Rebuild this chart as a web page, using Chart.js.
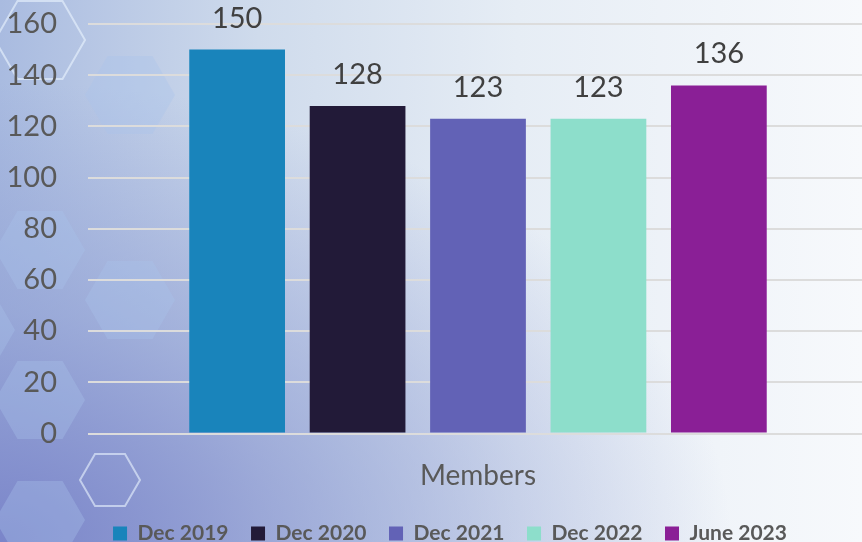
<!DOCTYPE html>
<html>
<head>
<meta charset="utf-8">
<script src="https://cdn.jsdelivr.net/npm/chart.js@4"></script>
<style>
    html, body {
        margin: 0;
        padding: 0;
        overflow: hidden;
        width: 862px;
        height: 542px;
    }
    body {
        background:
            radial-gradient(ellipse at 0% 100%, rgba(120, 130, 200, 0.95) 0%, rgba(140, 155, 210, 0.6) 30%, rgba(200, 215, 235, 0) 60%),
            linear-gradient(to right, #a9bbe0 0%, #cfdbec 30%, #e6edf5 60%, #f7f9fc 100%);
    }
    #wrap {
        position: relative;
        width: 868px;
        height: 554px;
    }
</style>
</head>
<body>
<div id="wrap"><canvas id="chart"></canvas></div>
<script>
const categories = ['Members'];
const seriesNames = ['Dec 2019', 'Dec 2020', 'Dec 2021', 'Dec 2022', 'June 2023'];
const seriesValues = [150, 128, 123, 123, 136];
const seriesColors = ['#1984bb', '#221a38', '#6262b6', '#8ddecb', '#8a1f96'];
const yTicks = [0, 20, 40, 60, 80, 100, 120, 140, 160];

const FONT = 'Lato, "Open Sans", sans-serif';

// faint hexagons on the left side, like the slide background
const hexBackground = {
    id: 'hexBackground',
    beforeDraw(chart) {
        const ctx = chart.ctx;
        const hexes = [
            [40, 40, 45, 'stroke'], [130, 95, 45, 'fill'], [40, 250, 45, 'fill'],
            [40, 400, 45, 'fill'], [40, 520, 45, 'fill'], [-30, 330, 45, 'fill'],
            [130, 300, 45, 'fill'], [110, 480, 30, 'stroke']
        ];
        ctx.save();
        hexes.forEach(([cx, cy, r, mode]) => {
            ctx.beginPath();
            for (let i = 0; i < 6; i++) {
                const a = Math.PI / 3 * i;
                const px = cx + r * Math.cos(a);
                const py = cy + r * Math.sin(a);
                if (i === 0) ctx.moveTo(px, py); else ctx.lineTo(px, py);
            }
            ctx.closePath();
            if (mode === 'fill') {
                ctx.fillStyle = 'rgba(170, 195, 235, 0.35)';
                ctx.fill();
            } else {
                ctx.strokeStyle = 'rgba(235, 245, 255, 0.6)';
                ctx.lineWidth = 2;
                ctx.stroke();
            }
        });
        ctx.restore();
    }
};

// value labels above each bar
const valueLabels = {
    id: 'valueLabels',
    afterDatasetsDraw(chart) {
        const ctx = chart.ctx;
        ctx.save();
        ctx.font = '29px ' + FONT;
        ctx.fillStyle = '#404040';
        ctx.textAlign = 'center';
        ctx.textBaseline = 'alphabetic';
        chart.data.datasets.forEach((ds, i) => {
            const meta = chart.getDatasetMeta(i);
            meta.data.forEach((bar, j) => {
                ctx.fillText(ds.data[j], bar.x, bar.y - 22);
            });
        });
        ctx.restore();
    }
};

// nudge the legend a little to the right, as in the original slide
const legendShift = {
    id: 'legendShift',
    afterLayout(chart) {
        chart.legend.left += 16;
        chart.legend.right += 16;
    }
};

const datasets = seriesNames.map((name, i) => ({
    label: name,
    data: [seriesValues[i]],
    backgroundColor: seriesColors[i],
    borderWidth: 0,
    barPercentage: 0.795,
    categoryPercentage: 0.772
}));

new Chart(document.getElementById('chart'), {
    type: 'bar',
    data: { labels: categories, datasets: datasets },
    plugins: [hexBackground, valueLabels, legendShift],
    options: {
        responsive: true,
        maintainAspectRatio: false,
        animation: false,
        layout: { padding: { top: 24, right: 0, bottom: 0, left: 0 } },
        plugins: {
            legend: {
                position: 'bottom',
                labels: {
                    boxWidth: 14,
                    boxHeight: 14,
                    padding: 22.5,
                    color: '#595959',
                    font: { family: FONT, size: 21, weight: 'bold' }
                }
            },
            tooltip: { enabled: false }
        },
        scales: {
            x: {
                afterFit(scale) { scale.height = 67; },
                grid: { display: false },
                border: { display: false },
                ticks: {
                    color: '#595959',
                    padding: 18,
                    font: { family: FONT, size: 28 }
                }
            },
            y: {
                min: 0,
                max: 160,
                afterFit(scale) {
                    scale.width = 88;
                    scale.paddingTop = 0;
                    scale.paddingBottom = 0;
                },
                afterBuildTicks(scale) { scale.ticks = yTicks.map(v => ({ value: v })); },
                grid: { color: '#dcdcdc', lineWidth: 2, drawTicks: false },
                border: { display: false },
                ticks: {
                    color: '#595959',
                    padding: 31,
                    font: { family: FONT, size: 29 }
                }
            }
        }
    }
});
</script>
</body>
</html>
